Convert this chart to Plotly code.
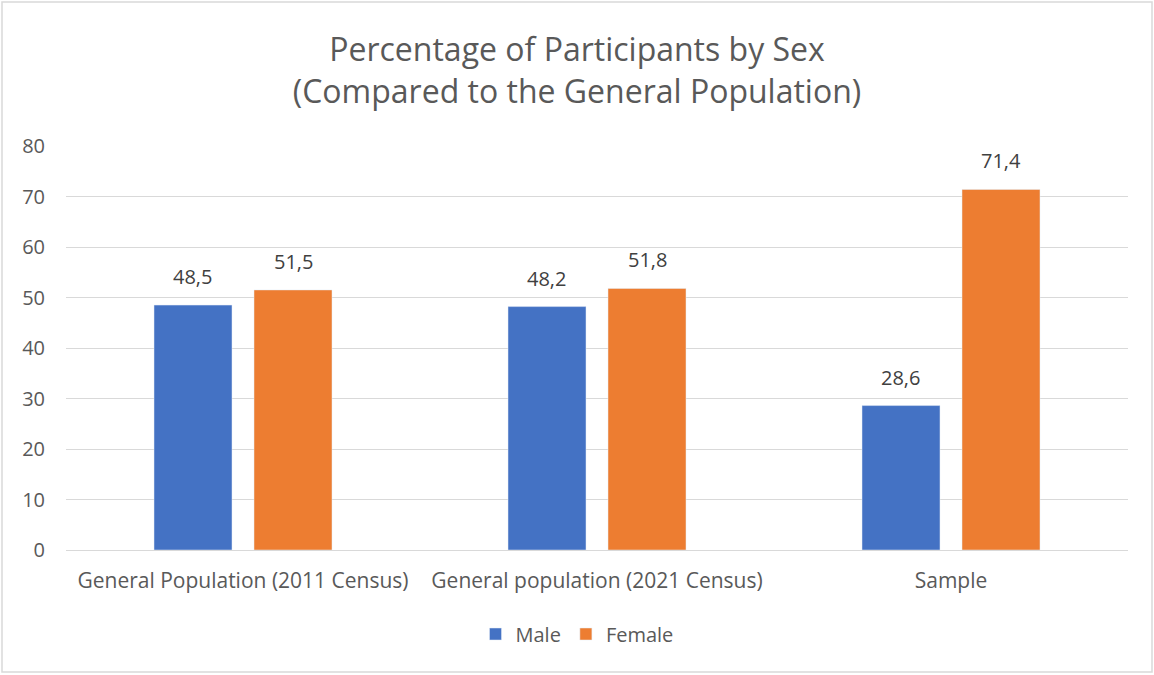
import plotly.graph_objects as go

categories = ["General Population (2011 Census)", "General population (2021 Census)", "Sample"]
male = [48.5, 48.2, 28.6]
female = [51.5, 51.8, 71.4]
series_names = ["Male", "Female"]
colors = ["#4472C4", "#ED7D31"]

W, H = 1154, 675
ml, mr, mt, mb = 66, 26, 146, 125
pw, ph = W - ml - mr, H - mt - mb
bargap, bargroupgap = 0.435, 0.22
slot = pw / len(categories) * (1 - bargap) / 2

font_family = "'Open Sans', sans-serif"
fig = go.Figure()
for name, vals, col in zip(series_names, [male, female], colors):
    fig.add_trace(go.Bar(x=categories, y=vals, name=name, marker_color=col))

annotations = []
for i, vals in enumerate([male, female]):
    shift = (i - 0.5) * slot
    for c, v in zip(categories, vals):
        annotations.append(dict(
            x=c, y=v, xref="x", yref="y", text=f"{v:.1f}".replace(".", ","),
            showarrow=False, xshift=shift, yshift=13, yanchor="bottom",
            font=dict(size=20, color="#404040", family=font_family)))

fig.update_layout(
    width=W, height=H,
    margin=dict(l=ml, r=mr, t=mt, b=mb),
    paper_bgcolor="white", plot_bgcolor="white",
    font=dict(family=font_family, color="#595959", size=20),
    title=dict(text="Percentage of Participants by Sex<br>(Compared to the General Population)",
               x=0.5, xref="container", xanchor="center",
               y=1 - 61 / H, yref="container", yanchor="middle",
               font=dict(size=32, color="#595959")),
    barmode="group", bargap=bargap, bargroupgap=bargroupgap,
    yaxis=dict(range=[0, 80], dtick=10, gridcolor="#d9d9d9", gridwidth=1,
               zeroline=False, showline=False, ticks="", ticklabelstandoff=20,
               tickfont=dict(size=20, color="#595959")),
    xaxis=dict(showline=True, linecolor="#d9d9d9", linewidth=1, ticks="",
               ticklabelstandoff=12,
               tickfont=dict(size=21, color="#595959")),
    legend=dict(orientation="h", x=0.5, xanchor="center", xref="container",
                y=1 - 634 / H, yref="container", yanchor="middle",
                font=dict(size=20, color="#595959")),
    showlegend=True,
    annotations=annotations,
)
fig.add_shape(type="rect", xref="paper", yref="paper",
              x0=(2 - ml) / pw, x1=(W - 2 - ml) / pw,
              y0=-(H - 3 - mt - ph) / ph, y1=(ph + mt - 2) / ph,
              line=dict(color="#d9d9d9", width=1.5), layer="below")
fig.write_html("out.html", config={"displayModeBar": False},
               post_script="document.body.style.margin='0';")
